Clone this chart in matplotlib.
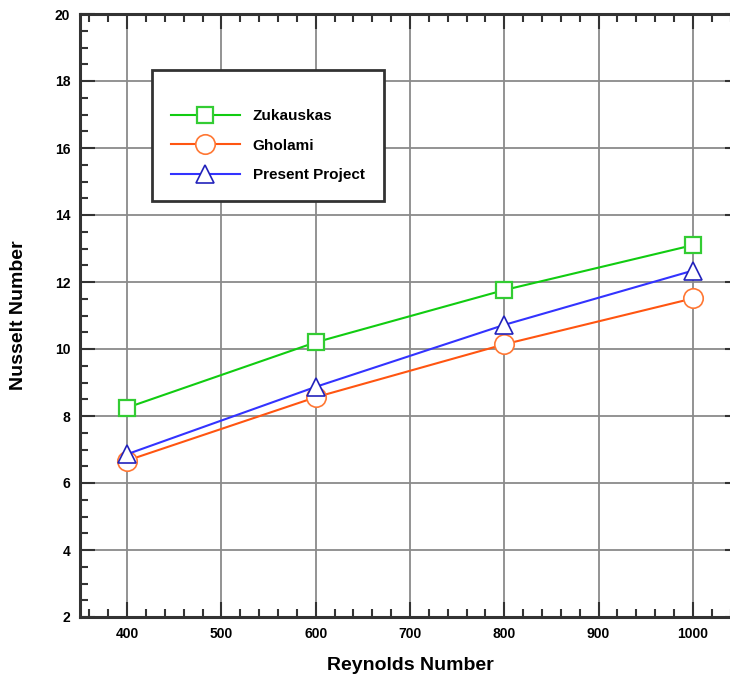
"""
Nusselt number vs Reynolds number, three correlations.
"""
import matplotlib

matplotlib.use("Agg")
import matplotlib.pyplot as plt
from matplotlib.ticker import MultipleLocator

plt.rcParams["font.family"] = ["Liberation Sans", "DejaVu Sans"]

reynolds = [400, 600, 800, 1000]
nu_zukauskas = [8.25, 10.2, 11.76, 13.1]
nu_gholami = [6.67, 8.56, 10.14, 11.51]
nu_present = [6.86, 8.87, 10.72, 12.34]

series_labels = ["Zukauskas", "Gholami", "Present Project"]
x_ticks = [400, 500, 600, 700, 800, 900, 1000]
y_ticks = [2, 4, 6, 8, 10, 12, 14, 16, 18, 20]

fig = plt.figure(figsize=(7.30, 6.76), dpi=100)
ax = fig.add_axes([80 / 730, 59 / 676, 660 / 730, 603 / 676])

ax.plot(reynolds, nu_zukauskas, color="#11cc11", linewidth=1.5, marker="s",
        markersize=12, markerfacecolor="white", markeredgecolor="#33cc33",
        markeredgewidth=1.6, label=series_labels[0])
ax.plot(reynolds, nu_gholami, color="#ff5511", linewidth=1.5, marker="o",
        markersize=14, markerfacecolor="white", markeredgecolor="#ff7733",
        markeredgewidth=1.2, label=series_labels[1])
ax.plot(reynolds, nu_present, color="#3333ff", linewidth=1.5, marker="^",
        markersize=13, markerfacecolor="white", markeredgecolor="#2222bb",
        markeredgewidth=1.2, label=series_labels[2])

ax.set_xlim(350, 1050)
ax.set_ylim(2, 20)
ax.set_xticks(x_ticks)
ax.set_yticks(y_ticks)
ax.xaxis.set_minor_locator(MultipleLocator(20))
ax.yaxis.set_minor_locator(MultipleLocator(0.5))
ax.grid(True, which="major", color="#8a8a8a", linewidth=1.3)
ax.set_axisbelow(True)

ax.tick_params(which="both", direction="in", top=True, right=True,
               color="#333333", width=1.5)
ax.tick_params(which="major", length=11, pad=7, labelsize=10)
ax.tick_params(which="minor", length=6)
for lab in ax.get_xticklabels() + ax.get_yticklabels():
    lab.set_fontweight("bold")
for spine in ax.spines.values():
    spine.set_color("#333333")
    spine.set_linewidth(2.2)

ax.set_xlabel("Reynolds Number", fontsize=14, fontweight="bold", labelpad=12)
ax.set_ylabel("Nusselt Number", fontsize=14, fontweight="bold", labelpad=20)

leg = ax.legend(loc="upper left", bbox_to_anchor=(0.109, 0.907), borderaxespad=0,
                prop={"size": 11, "weight": "bold"}, handlelength=4.5,
                handletextpad=0.85, labelspacing=1.0, borderpad=1.25,
                title=" ", title_fontsize=4, fancybox=False, framealpha=1)
leg.get_frame().set_edgecolor("#333333")
leg.get_frame().set_linewidth(2)

fig.savefig("out.png", dpi=100)
